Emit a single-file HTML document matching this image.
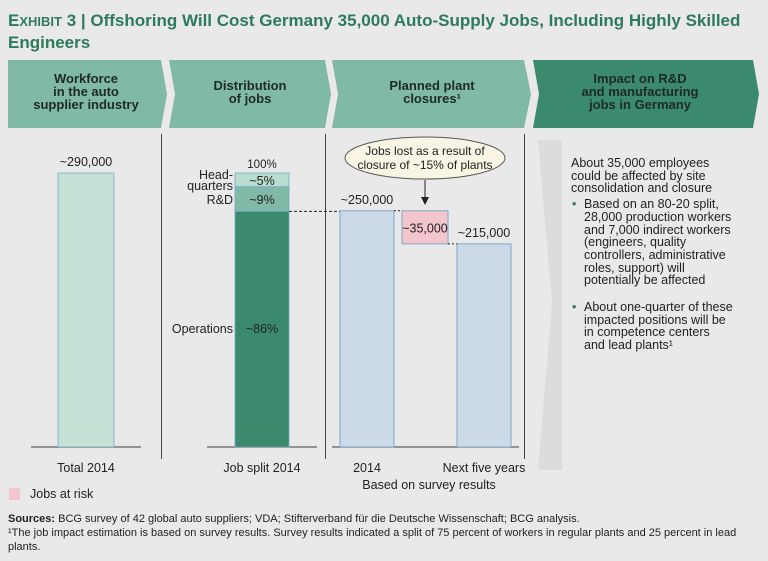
<!DOCTYPE html>
<html><head><meta charset="utf-8"><style>
body{margin:0;width:768px;height:561px;background:#e9e9ea;font-family:"Liberation Sans",sans-serif;overflow:hidden;position:relative}
.t{position:absolute;white-space:nowrap}
</style></head><body>
<div class="t" style="left:8px;top:10px;font-size:17px;font-weight:bold;color:#2d7a5c;line-height:21px;white-space:normal;width:740px">E<span style="font-size:13px">XHIBIT</span> 3 | Offshoring Will Cost Germany 35,000 Auto-Supply Jobs, Including Highly Skilled Engineers</div>
<svg id="c" width="768" height="561" style="position:absolute;left:0;top:0" font-family="Liberation Sans, sans-serif">
<polygon points="538,140 562,140 562,470 538,470 552,303" fill="#dcdcdd"/>
<g>
<polygon points="8,60 161,60 167,94 161,128 8,128" fill="#80b9a6"/>
<polygon points="169,60 325,60 331,94 325,128 169,128 175,94" fill="#80b9a6"/>
<polygon points="332,60 524,60 531,94 524,128 332,128 338,94" fill="#80b9a6"/>
<polygon points="533,60 753,60 759,94 753,128 533,128 539,94" fill="#3b8a6e"/>
<g font-size="13" font-weight="bold" text-anchor="middle" fill="#1d2a25">
<text x="86" y="83">Workforce</text><text x="86" y="96">in the auto</text><text x="86" y="109">supplier industry</text>
<text x="250" y="90">Distribution</text><text x="250" y="103">of jobs</text>
<text x="432" y="90">Planned plant</text><text x="432" y="103">closures¹</text>
<text x="640" y="83">Impact on R&amp;D</text><text x="640" y="96">and manufacturing</text><text x="640" y="109">jobs in Germany</text>
</g></g>
<g stroke="#444" stroke-width="1">
<line x1="161.5" y1="134" x2="161.5" y2="459"/><line x1="325.5" y1="134" x2="325.5" y2="459"/><line x1="524.5" y1="134" x2="524.5" y2="459"/>
</g>
<g stroke="#777" stroke-width="1.5">
<line x1="31" y1="447" x2="141" y2="447"/><line x1="207" y1="447" x2="317" y2="447"/><line x1="332" y1="447" x2="519" y2="447"/>
</g>
<g id="bars"></g>
<g font-size="12.5" fill="#222" text-anchor="middle">
<text x="86" y="472">Total 2014</text><text x="262" y="472">Job split 2014</text>
<text x="367" y="472">2014</text><text x="484" y="472">Next five years</text>
<text x="429" y="489">Based on survey results</text>
</g>
<rect x="9" y="488" width="11" height="12" fill="#f2c6cc"/>
<text x="30" y="498" font-size="12.5" fill="#222">Jobs at risk</text>
<g>
<ellipse cx="425" cy="158" rx="80" ry="21" fill="#f8f5e4" stroke="#555"/>
<text x="425" y="155" font-size="12" text-anchor="middle" fill="#222">Jobs lost as a result of</text>
<text x="425" y="169" font-size="12" text-anchor="middle" fill="#222">closure of ~15% of plants</text>
<line x1="425" y1="180" x2="425" y2="198" stroke="#222"/><polygon points="421,197 429,197 425,205" fill="#222"/>
</g>
</svg>
<div class="t" style="left:571px;top:157px;font-size:12.5px;color:#222;line-height:12.7px">
<div>About 35,000 employees<br>could be affected by site<br>consolidation and closure</div>
<div style="position:relative;padding-left:13px;margin-top:3px"><span style="position:absolute;left:1px;color:#2d7a5c">•</span>Based on an 80-20 split,<br>28,000 production workers<br>and 7,000 indirect workers<br>(engineers, quality<br>controllers, administrative<br>roles, support) will<br>potentially be affected</div>
<div style="position:relative;padding-left:13px;margin-top:14px"><span style="position:absolute;left:1px;color:#2d7a5c">•</span>About one-quarter of these<br>impacted positions will be<br>in competence centers<br>and lead plants¹</div>
</div>
<div class="t" style="left:8px;top:512px;font-size:11px;color:#222;line-height:14px;white-space:normal;width:735px">
<div><b>Sources:</b> BCG survey of 42 global auto suppliers; VDA; Stifterverband für die Deutsche Wissenschaft; BCG analysis.</div>
<div>¹The job impact estimation is based on survey results. Survey results indicated a split of 75 percent of workers in regular plants and 25 percent in lead plants.</div>
</div>
<script>
const totalValue=[290000];
const splitShares=[86,9,5];
const splitLabels=["~86%","~9%","~5%"];
const waterfallValues=[250000,35000,215000];
const waterfallLabels=["~250,000","~35,000","~215,000"];
const NS="http://www.w3.org/2000/svg",g=document.getElementById('bars');
const base=447,top0=173,y=v=>base-(v/290000)*(base-top0);
function el(t,a,txt){const e=document.createElementNS(NS,t);for(const k in a)e.setAttribute(k,a[k]);if(txt)e.textContent=txt;g.appendChild(e);return e;}
let e=el('rect',{x:58,y:y(totalValue[0]),width:56,height:base-y(totalValue[0]),fill:'#c6e2d6',stroke:'#7fa8cc','stroke-width':0.8});

el('text',{x:86,y:y(totalValue[0])-7,'font-size':12.5,'text-anchor':'middle',fill:'#222'},'~290,000');
const sh=p=>base-(p/100)*(base-top0);
let cum=0;const cols=['#3b8a6e','#80b9a6','#b9dccf'];const names=['operations','rnd','headquarters'];
splitShares.forEach((s,i)=>{const y1=sh(cum+s),y0=sh(cum);
e=el('rect',{x:235,y:y1,width:54,height:y0-y1,fill:cols[i],stroke:'#6fa9c9','stroke-width':0.8});

el('text',{x:262,y:(i==0?333:(y0+y1)/2+5),'font-size':12.5,'text-anchor':'middle',fill:'#222'},splitLabels[i]);cum+=s;});
el('text',{x:262,y:168,'font-size':11.5,'text-anchor':'middle',fill:'#222'},'100%');
[['Head-',179],['quarters',190],['R&D',204],['Operations',333]].forEach(t=>el('text',{x:233,y:t[1],'font-size':12.5,'text-anchor':'end',fill:'#222'},t[0]));
const dashY=sh(86);
el('line',{x1:289,y1:dashY,x2:340,y2:dashY,stroke:'#222','stroke-dasharray':'3,2'});
const xs=[340,402,457],w=[54,46,54];
const tops=[y(waterfallValues[0]),y(waterfallValues[0]),y(waterfallValues[2])];
const bots=[base,y(waterfallValues[0]-waterfallValues[1]),base];
const fills=['#ccd9e6','#f2c6cc','#ccd9e6'];const wn=['bar-2014','bar-jobs-at-risk','bar-next-five-years'];
waterfallValues.forEach((v,i)=>{e=el('rect',{x:xs[i],y:tops[i],width:w[i],height:bots[i]-tops[i],fill:fills[i],stroke:'#7fa8cc'});

const lx=xs[i]+w[i]/2,ly=i==1?(tops[i]+bots[i])/2+5:tops[i]-7;
el('text',{x:lx,y:ly,'font-size':12.5,'text-anchor':'middle',fill:'#222'},waterfallLabels[i]);});
el('line',{x1:394,y1:tops[0],x2:402,y2:tops[0],stroke:'#222','stroke-dasharray':'2,2'});
el('line',{x1:448,y1:bots[1],x2:457,y2:bots[1],stroke:'#222','stroke-dasharray':'2,2'});
</script>
</body></html>
